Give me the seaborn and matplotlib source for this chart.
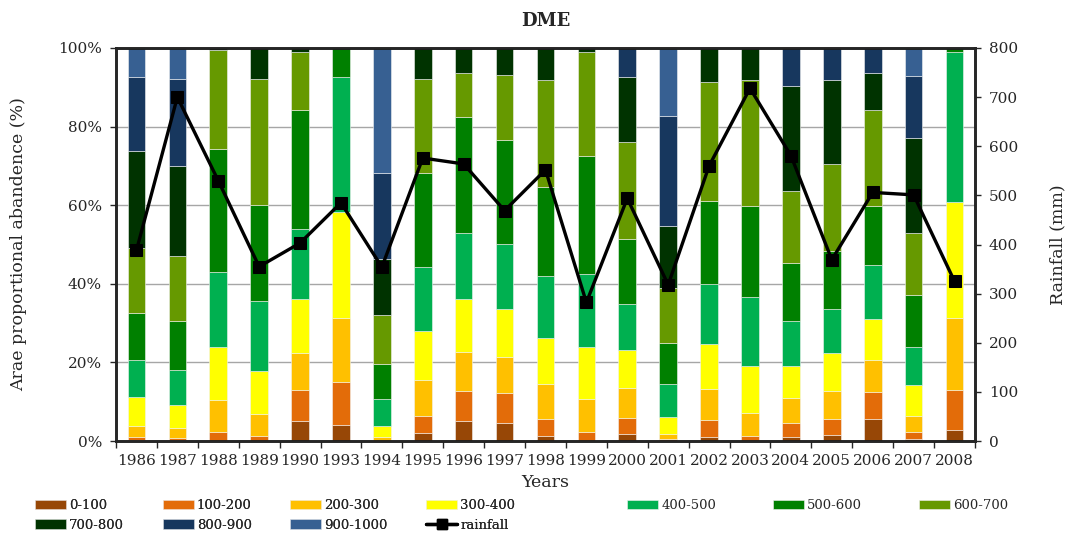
import numpy as np
import pandas as pd
import matplotlib
matplotlib.use('Agg')
import matplotlib.pyplot as plt
import seaborn as sns
from matplotlib.lines import Line2D

# estilo
sns.set_style('ticks')
plt.rcParams['font.family'] = ['DejaVu Serif']
plt.rcParams['font.size'] = 11

# dados (% da área por classe)
years = [1986, 1987, 1988, 1989, 1990, 1993, 1994, 1995, 1996, 1997, 1998,
         1999, 2000, 2001, 2002, 2003, 2004, 2005, 2006, 2007, 2008]

c0_100 = [0.3, 0.2, 0.0, 0.0, 5.1, 4.2, 0.0, 2.1, 5.1, 4.6, 1.3, 0.0, 1.9, 0.0, 1.1, 0.0, 1.1, 1.5, 5.7, 0.4, 2.8]
c100_200 = [0.7, 0.6, 2.3, 1.3, 7.9, 10.9, 0.0, 4.3, 7.7, 7.6, 4.2, 2.3, 3.9, 0.4, 4.2, 1.3, 3.4, 4.0, 6.9, 2.0, 10.2]
c200_300 = [2.8, 2.4, 8.1, 5.6, 9.4, 16.3, 0.9, 9.1, 9.9, 9.3, 9.0, 8.4, 7.7, 1.5, 7.9, 5.8, 6.4, 7.3, 8.0, 4.0, 18.3]
c300_400 = [7.5, 5.9, 13.4, 11.0, 13.7, 26.8, 3.0, 12.4, 13.4, 12.1, 11.8, 13.2, 9.6, 4.3, 11.5, 11.9, 8.1, 9.5, 10.5, 7.8, 29.4]
c400_500 = [9.3, 8.9, 19.1, 17.6, 17.8, 34.4, 6.8, 16.3, 16.9, 16.5, 15.6, 18.7, 11.8, 8.3, 15.3, 17.6, 11.6, 11.3, 13.7, 9.8, 38.3]
c500_600 = [12.1, 12.5, 31.5, 24.6, 30.3, 7.4, 9.0, 23.9, 29.5, 26.6, 22.7, 29.8, 16.5, 10.4, 21.0, 23.1, 14.7, 14.7, 14.9, 13.1, 1.0]
c600_700 = [16.5, 16.5, 25.0, 32.0, 14.8, 0.0, 12.3, 24.0, 11.2, 16.4, 27.3, 26.6, 24.7, 14.1, 30.4, 32.2, 18.4, 22.1, 24.5, 15.8, 0.0]
c700_800 = [24.7, 22.9, 0.6, 7.9, 1.0, 0.0, 14.2, 7.9, 6.3, 6.9, 8.1, 1.0, 16.5, 15.8, 8.6, 8.1, 26.7, 21.5, 9.5, 24.2, 0.0]
c800_900 = [18.6, 22.2, 0, 0, 0, 0, 21.9, 0, 0, 0, 0, 0, 7.4, 27.9, 0, 0, 9.6, 8.1, 6.3, 15.8, 0]
c900_1000 = [7.5, 7.9, 0, 0, 0, 0, 31.9, 0, 0, 0, 0, 0, 0, 17.3, 0, 0, 0, 0, 0, 7.1, 0]

rainfall = [388, 700, 530, 355, 403, 485, 354, 576, 564, 469, 552,
            282, 494, 318, 560, 718, 581, 369, 506, 501, 325]

classes = ['0-100', '100-200', '200-300', '300-400', '400-500',
           '500-600', '600-700', '700-800', '800-900', '900-1000']
colors = ['#974706', '#E36C09', '#FFC000', '#FFFF00', '#00B050',
          '#008000', '#669900', '#003300', '#17375E', '#376092']

df = pd.DataFrame({'Ano': [str(y) for y in years],
                   '0-100': c0_100, '100-200': c100_200, '200-300': c200_300,
                   '300-400': c300_400, '400-500': c400_500, '500-600': c500_600,
                   '600-700': c600_700, '700-800': c700_800, '800-900': c800_900,
                   '900-1000': c900_1000})

fig, ax = plt.subplots(figsize=(10.68, 5.41), dpi=100)
fig.subplots_adjust(left=0.1086, right=0.9129, top=0.9113, bottom=0.1848)

# barras empilhadas
base = np.zeros(len(years))
for cls, col in zip(classes, colors):
    sns.barplot(data=df, x='Ano', y=cls, color=col, saturation=1, bottom=base, width=0.43,
                errorbar=None, edgecolor='#F2F2F2', linewidth=0.4, ax=ax, label=cls)
    base = base + df[cls].values
h, l = ax.get_legend_handles_labels()
handles = dict(zip(l, h))
if ax.get_legend() is not None:
    ax.get_legend().remove()

ax.set_xlim(-0.5, len(years) - 0.5)
ax.set_ylim(0, 100)
ax.set_yticks(np.arange(0, 101, 20))
ax.set_yticklabels([f'{v}%' for v in range(0, 101, 20)])
ax.yaxis.grid(True, color='#A6A6A6', linewidth=1)
ax.set_axisbelow(True)
ax.set_xticks(np.arange(len(years)))
ax.set_xticklabels([str(y) for y in years])
ax.set_xticks(np.arange(len(years) + 1) - 0.5, minor=True)
ax.tick_params(axis='x', which='major', length=0, pad=9, labelsize=11)
ax.tick_params(axis='x', which='minor', length=5, width=1, direction='out')
ax.tick_params(axis='y', length=4, width=1, labelsize=11, pad=6)
ax.set_xlabel('Years', fontsize=12.5)
ax.xaxis.set_label_coords(0.5, -0.085)
ax.set_ylabel('Arae proportional abandence (%)', fontsize=12.5)
ax.yaxis.set_label_coords(-0.104, 0.5)
ax.set_title('DME', fontweight='bold', fontsize=13, pad=16)
for s in ax.spines.values():
    s.set_linewidth(1.8)
    s.set_color('black')

# chuva no eixo secundário
ax2 = ax.twinx()
sns.lineplot(x=np.arange(len(years)), y=rainfall, ax=ax2, color='black',
             linewidth=2.4, marker='s', markersize=8, markeredgecolor='black')
ax2.set_ylim(0, 800)
ax2.set_yticks(np.arange(0, 801, 100))
ax2.tick_params(axis='y', length=4, width=1, labelsize=11, pad=6)
ax2.set_ylabel('Rainfall (mm)', fontsize=12.5)
ax2.yaxis.set_label_coords(1.087, 0.5)
for s in ax2.spines.values():
    s.set_linewidth(1.8)

# legenda em duas partes
rain_h = Line2D([], [], color='black', linewidth=2.4, marker='s', markersize=7)
order1 = ['0-100', '700-800', '100-200', '800-900', '200-300', '900-1000', '300-400']
h1 = [handles[k] for k in order1] + [rain_h]
l1 = order1 + ['rainfall']
leg1 = fig.legend(h1, l1, ncol=4, loc='upper left', bbox_to_anchor=(35 / 1068, 1 - 499 / 541),
                  frameon=False, fontsize=9.5, handlelength=2.35, handleheight=0.7,
                  handletextpad=0.25, columnspacing=2.9, labelspacing=0.5,
                  borderpad=0, borderaxespad=0)
order2 = ['400-500', '500-600', '600-700']
fig.legend([handles[k] for k in order2], order2, ncol=3, loc='upper left',
           bbox_to_anchor=(627 / 1068, 1 - 499 / 541), frameon=False, fontsize=9.5,
           handlelength=2.35, handleheight=0.7, handletextpad=0.25, columnspacing=4.3,
           borderpad=0, borderaxespad=0)
fig.add_artist(leg1)

fig.savefig('out.png', dpi=100)
